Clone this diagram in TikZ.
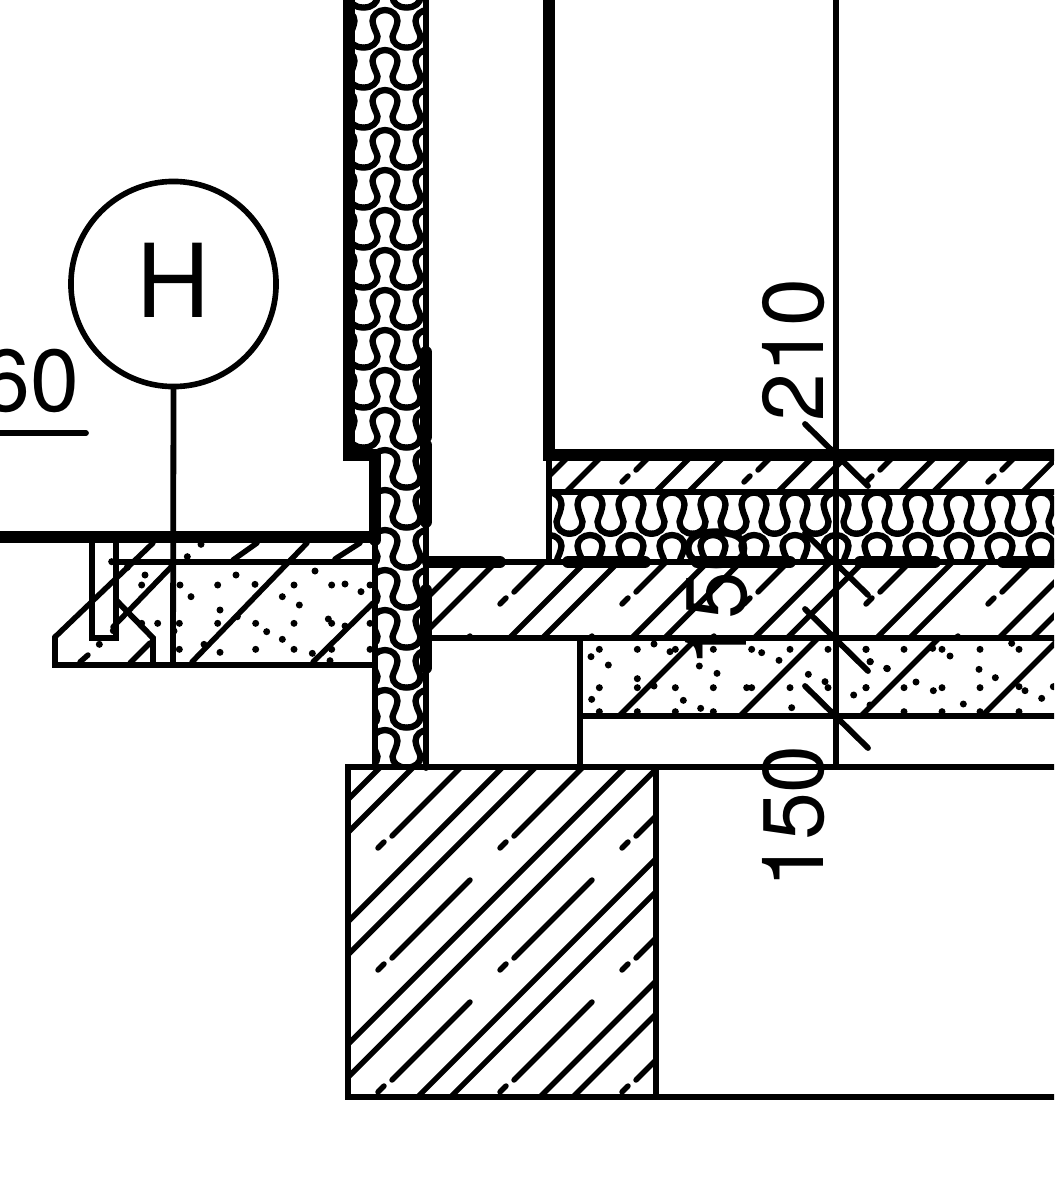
\documentclass[tikz,border=0pt]{standalone}
\usepackage{fontspec}
\setmainfont{TeX Gyre Heros}
\tikzset{
  thinline/.style={line width=1.65pt, color=black, line cap=round},
  thickline/.style={line width=3.4pt, color=black, line cap=round},
  hatchline/.style={line width=1.55pt, color=black, line cap=round},
  knitline/.style={line width=1.8pt, color=black, line cap=round},
  dimtext/.style={font=\fontsize{24.5pt}{24.5pt}\selectfont, inner sep=0pt, rotate=90},
  knit/.pic={
    \draw[knitline] (-21,37.5) .. controls (-13,37.5) and (-7.5,33) .. (-7.5,26.5)
      .. controls (-7.5,23.5) and (-10,21.5) .. (-10.5,18.75)
      .. controls (-11,16) and (-12.5,14) .. (-12.5,11)
      .. controls (-12.5,5) and (-7,0) .. (0,0)
      .. controls (7,0) and (12.5,5) .. (12.5,11)
      .. controls (12.5,14) and (11,16) .. (10.5,18.75)
      .. controls (10,21.5) and (7.5,23.5) .. (7.5,26.5)
      .. controls (7.5,33) and (13,37.5) .. (21,37.5);
  }
}
\begin{document}
\begin{tikzpicture}[x=0.01cm, y=-0.01cm]
    \clip (0,0) rectangle (1054,1200);

    % common hatch: foundation, slab and screed
    \begin{scope}
      \clip (348,768) rectangle (655,1097)
      (426,562) rectangle (1054,639)
      (549,454) rectangle (1054,492);
      \foreach \k in {-1,...,9} {
        \draw[hatchline] ({1025+122.4*\k},0) -- (0,{1025+122.4*\k});
        \draw[hatchline] ({1058+122.4*\k},0) -- (0,{1058+122.4*\k});
      }
      \foreach \i in {0,...,6}
      \foreach \j in {-3,...,2} {
        \draw[hatchline] ({392+122*\i},{836+122*\j}) -- ({470+122*\i},{758+122*\j});
        \draw[hatchline] ({378+122*\i},{848+122*\j}) -- ({384+122*\i},{842+122*\j});
      }
    \end{scope}

    % hatch of the lean concrete
    \begin{scope}
      \clip (580,639) rectangle (1054,717);
      \foreach \k in {0,...,3}
        \draw[hatchline] ({1335+121*\k},0) -- (0,{1335+121*\k});
    \end{scope}

    % hatch of the terrace
    \draw[hatchline] (55,637) -- (153,543);
    \draw[hatchline] (80,662) -- (88,655);
    \draw[hatchline] (113,627) -- (173,565);
    \draw[hatchline] (130,663) -- (150,643);
    \draw[hatchline] (233,560) -- (257,543);
    \draw[hatchline] (192,662) -- (307,543);
    \draw[hatchline] (313,662) -- (373,603);
    \draw[hatchline] (335,559) -- (360,543);

    % gravel dots
    \foreach \a/\b in {178/628,153/650,205/675,292/628,342/612,390/635,406/628,520/628,635/628,
      665/638,750/628,717/661,864/628,978/628,990/665,1040/685,292/716,292/743,342/738,178/743,
      155/778,406/743,430/781,482/805,520/743,531/700,478/678,620/743,635/743,750/743,805/703,
      855/725,864/743,978/743,941/765,178/815,292/815,406/815,520/815,755/803}
      \fill ({540+\a/3},{440+\b/3}) circle (3.5);
    \foreach \a/\b in {138/628,151/665,202/686,252/628,338/625,366/628,390/648,480/628,477/688,
      526/713,575/610,597/628,138/743,252/743,288/726,340/752,366/743,430/792,480/743,597/740,
      615/752,665/775,252/815,366/815,480/815,597/815,150/795,700/740}
      \fill ({820+\a/3},{440+\b/3}) circle (3.5);
    \foreach \a/\b in {513/73,472/110,292/142,345/165,335/195,245/125,450/195,618/165,563/195,
      675/193,792/195,855/153,905/195,945/192,993/215,1020/195,483/230,757/230,808/255,570/270,
      895/297,905/310,945/318,383/310,335/310,448/310,563/310,677/310,792/310,622/290,710/335,
      757/358,432/333,1020/310,448/388,522/373,570/397,677/388,792/388,847/400,905/388,208/373,
      900/422,1020/388,250/332}
      \fill ({30+\a/3},{520+\b/3}) circle (3.5);

    % insulation
    \begin{scope}
      \clip (350,0) rectangle (426,455)
      (375,455) rectangle (426,768);
      \foreach \r in {-1,...,19} {
        \pic at (342,{10+40*\r}) {knit};
        \pic at (385,{10+40*\r}) {knit};
        \pic at (428,{10+40*\r}) {knit};
      }
    \end{scope}
    \begin{scope}
      \clip (552,494) rectangle (1054,560);
      \foreach \k in {-1,...,12} {
        \pic[yscale=1.1] at ({590+41*\k},492.5) {knit};
        \pic at ({590+41*\k},535) {knit};
      }
    \end{scope}

    % walls
    \draw[thickline] (349,0) -- (349,455) -- (375,455) -- (375,540);
    \draw[thinline] (375,540) -- (375,768);
    \draw[thinline] (426,0) -- (426,768);
    \draw[thickline] (426,352) -- (426,437);
    \draw[thickline] (426,445) -- (426,522);
    \draw[thickline] (426,590) -- (426,668);
    \draw[thickline] (549,0) -- (549,455) -- (1054,455);
    \draw[thinline] (549,455) -- (549,562);

    % floor
    \draw[thinline] (549,492) -- (1054,492);
    \draw[thinline] (426,562) -- (1054,562);
    \draw[thickline] (428,562) -- (500,562);
    \draw[thickline] (568,562) -- (645,562);
    \draw[thickline] (697,562) -- (790,562);
    \draw[thickline] (860,562) -- (935,562);
    \draw[thickline] (1003,562) -- (1054,562);
    \draw[thinline] (426,638) -- (1054,638);
    \draw[thinline] (580,638) -- (580,767);
    \draw[thinline] (580,716) -- (1054,716);

    % foundation
    \draw[thinline] (1054,767) -- (348,767) -- (348,1097) -- (1054,1097);
    \draw[thinline] (656,767) -- (656,1097);

    % terrace
    \draw[thickline] (0,537) -- (375,537);
    \draw[thinline] (112,562) -- (375,562);
    \draw[thinline] (375,665) -- (55,665) -- (55,637);
    \draw[thinline] (116,600) -- (153,638) -- (153,665);
    \draw[thinline] (92,537) -- (92,638) -- (116,638) -- (116,537);

    % reference circle
    \node[circle, draw, line width=1.6pt, minimum size=2.05cm, inner sep=0pt,
      font=\fontsize{29pt}{29pt}\selectfont] (circH) at (173.5,284) {\raisebox{2.2pt}{H}};
    \coordinate (leaderEnd) at (173,665);
    \draw[thinline] (circH.south) -- (leaderEnd);

    % level
    \node[font=\fontsize{25pt}{25pt}\selectfont, inner sep=0pt] (lblSixty) at (30,381) {60};
    \coordinate (lineA) at (0,433);
    \coordinate (lineB) at (86,433);
    \draw[thinline] (lineA) -- (lineB);

    % dimension line
    \coordinate (dimTop) at (836,0);
    \coordinate (dimBot) at (836,767);
    \draw[thinline] (dimTop) -- (dimBot);
    \foreach \t in {455,564,640,717}
      \draw[thinline] (805,{\t-31}) -- (868,{\t+31});
    \node[dimtext] (lblTwoTen) at (793.5,350) {210};
    \node[dimtext] (lblMiddle) at (717,596) {150};
    \node[dimtext] (lblOneFifty) at (793.5,817) {150};
\end{tikzpicture}
\end{document}
